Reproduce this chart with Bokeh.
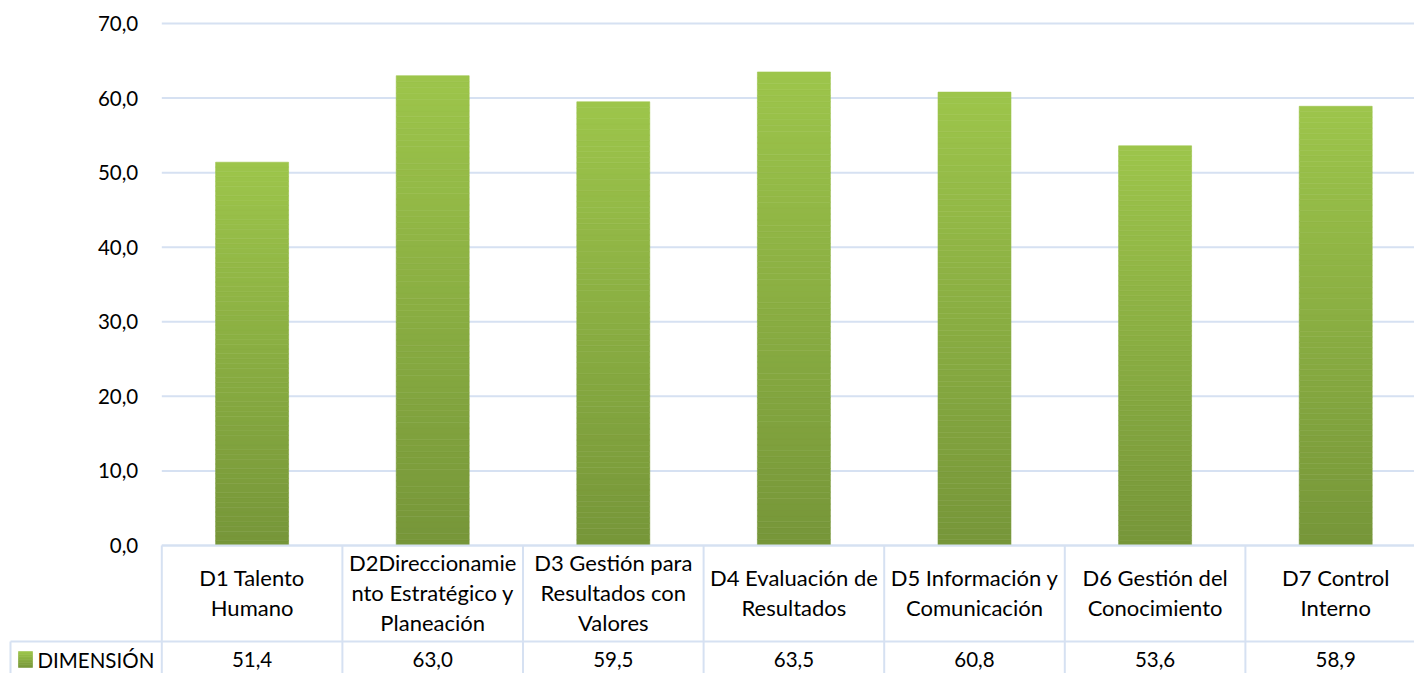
from bokeh.plotting import figure
from bokeh.models import Range1d, ColumnDataSource
from bokeh.core.properties import value
from bokeh.embed import file_html
from bokeh.resources import INLINE

# ---- data ----
categories = ["D1 Talento\nHumano",
              "D2Direccionamie\nnto Estratégico y\nPlaneación",
              "D3 Gestión para\nResultados con\nValores",
              "D4 Evaluación de\nResultados",
              "D5 Información y\nComunicación",
              "D6 Gestión del\nConocimiento",
              "D7 Control\nInterno"]
values = [51.4, 63.0, 59.5, 63.5, 60.8, 53.6, 58.9]
series_name = "DIMENSIÓN"
y_ticks = [0, 10, 20, 30, 40, 50, 60, 70]

# ---- style / layout ----
FONT = "Lato"
FS = "22px"       # text
FS_NUM = "20.5px"  # numbers
GRID = "#d6e1f2"
TXT = "#000000"
TOP = (157, 197, 75)
BOT = (118, 150, 57)

W, H = 1414, 673
X0_PX, COL_PX = 161.3, 180.6      # page x of category boundary 0, column width
Y0_PX, PX_PER_UNIT = 545.0, 7.457  # page y of value 0, px per value unit


def dx(px):
    return (px - X0_PX) / COL_PX


def dy(py):
    return (Y0_PX - py) / PX_PER_UNIT


x_start, x_end = dx(0), dx(W)
y_start, y_end = dy(H), dy(0)

p = figure(width=W, height=H, output_backend="svg", toolbar_location=None,
           x_axis_type=None, y_axis_type=None,
           x_range=Range1d(x_start, x_end), y_range=Range1d(y_start, y_end),
           min_border_left=0, min_border_right=0, min_border_top=0,
           min_border_bottom=0)
p.outline_line_color = None
p.background_fill_color = "white"
p.border_fill_color = "white"
p.xgrid.visible = False
p.ygrid.visible = False

n = len(categories)

# ---- value-axis gridlines and tick labels ----
p.segment(x0=[0] * len(y_ticks), x1=[x_end] * len(y_ticks), y0=y_ticks, y1=y_ticks,
          line_color=GRID, line_width=2)
p.text(x=[dx(137.7)] * len(y_ticks), y=y_ticks,
       text=[("%.1f" % t).replace(".", ",") for t in y_ticks],
       text_align="right", text_baseline="middle", text_font=value(FONT),
       text_font_size=FS_NUM, text_color=TXT)

# ---- gradient bars (each bar split into thin slices) ----
N = 80
bw = 0.404
L, R, B, T, C = [], [], [], [], []
for i, v in enumerate(values):
    for k in range(N):
        f = (k + 0.5) / N
        col = tuple(int(round(BOT[j] + (TOP[j] - BOT[j]) * f)) for j in range(3))
        L.append(i + 0.5 - bw / 2)
        R.append(i + 0.5 + bw / 2)
        B.append(v * k / N)
        T.append(v * (k + 1) / N)
        C.append("#%02x%02x%02x" % col)
p.quad(left=L, right=R, bottom=B, top=T, fill_color=C, line_color=C, line_width=0.6)

# ---- data table ----
y_sep = dy(641)
x_left = dx(10)
p.segment(x0=list(range(n + 1)), x1=list(range(n + 1)),
          y0=[0] * (n + 1), y1=[y_start] * (n + 1), line_color=GRID, line_width=2)
p.segment(x0=[0, x_left, x_left], x1=[x_end, x_end, x_left],
          y0=[0, y_sep, y_sep], y1=[0, y_sep, y_start],
          line_color=GRID, line_width=2)

src = ColumnDataSource(dict(x=[i + 0.5 for i in range(n)],
                            cat=categories,
                            val=[("%.1f" % v).replace(".", ",") for v in values]))
p.text(x="x", y=dy(592), text="cat", source=src, text_align="center",
       text_baseline="middle", text_font=value(FONT), text_font_size=FS,
       text_color=TXT, text_line_height=1.1)
p.text(x="x", y=dy(659), text="val", source=src, text_align="center",
       text_baseline="middle", text_font=value(FONT), text_font_size=FS_NUM,
       text_color=TXT)

# legend key in the left cell of the table
M = 10
sq_b, sq_t = dy(667), dy(651)
ks = [(k + 0.5) / M for k in range(M)]
kc = ["#%02x%02x%02x" % tuple(int(round(BOT[j] + (TOP[j] - BOT[j]) * f)) for j in range(3))
      for f in ks]
p.quad(left=[dx(18)] * M, right=[dx(32)] * M,
       bottom=[sq_b + (sq_t - sq_b) * k / M for k in range(M)],
       top=[sq_b + (sq_t - sq_b) * (k + 1) / M for k in range(M)],
       fill_color=kc, line_color=kc, line_width=0.6)
p.text(x=[dx(37)], y=[dy(659)], text=[series_name], text_align="left",
       text_baseline="middle", text_font=value(FONT), text_font_size="20.5px",
       text_color=TXT)

open("out.html", "w").write(file_html(p, INLINE))
